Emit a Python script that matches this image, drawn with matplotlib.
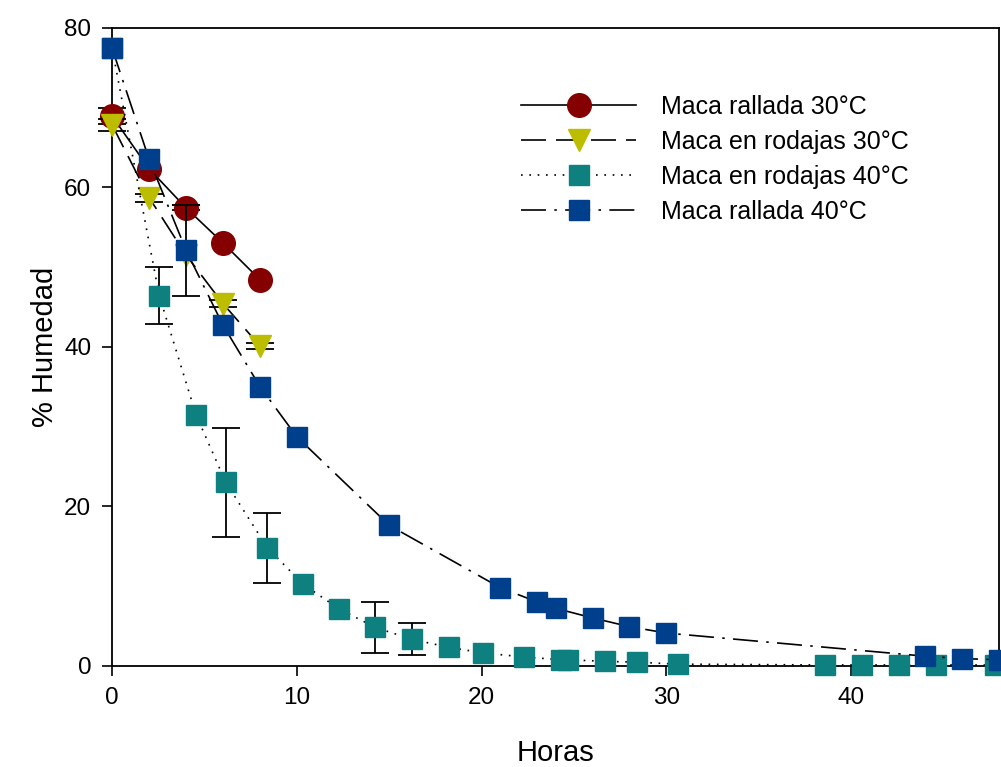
import matplotlib
matplotlib.use("Agg")
import matplotlib.pyplot as plt

plt.rcParams['font.family'] = ['Liberation Sans', 'DejaVu Sans']

# Maca rallada 30°C
rall30_x = [0, 2, 4, 6, 8]
rall30_y = [68.9, 62.3, 57.4, 53.0, 48.4]

# Maca en rodajas 30°C
rod30_x = [0, 2, 4, 6, 8]
rod30_y = [67.8, 58.7, 51.5, 45.4, 40.1]

# Maca en rodajas 40°C
rod40_x = [0, 2.55, 4.55, 6.15, 8.4, 10.35, 12.3, 14.25, 16.25, 18.25, 20.1,
           22.3, 24.3, 24.7, 26.7, 28.4, 30.6, 38.6, 40.6, 42.6, 44.6, 47.8]
rod40_y = [77.4, 46.4, 31.4, 23.0, 14.8, 10.2, 7.1, 4.8, 3.3, 2.3, 1.6,
           1.1, 0.75, 0.75, 0.55, 0.45, 0.2, 0.1, 0.1, 0.1, 0.1, 0.1]

# Maca rallada 40°C
rall40_x = [0, 2, 4, 6, 8, 10, 15, 21, 23, 24, 26, 28, 30, 44, 46, 48]
rall40_y = [77.4, 63.5, 52.1, 42.7, 35.0, 28.7, 17.6, 9.8, 8.0, 7.2,
            6.0, 4.9, 4.1, 1.2, 0.9, 0.75]

# desviaciones estandar
rall30_err = ([0, 4], [68.9, 57.4], [1.0, 0.3])
rod30_err = ([0, 2, 6, 8], [67.8, 58.7, 45.4, 40.1], [0.8, 0.5, 0.4, 0.4])
rod40_err = ([2.55, 6.15, 8.4, 14.25, 16.25], [46.4, 23.0, 14.8, 4.8, 3.3],
             [3.6, 6.8, 4.4, 3.2, 2.0])
rall40_err = ([4], [52.1], [5.7])

series = [
    ("Maca rallada 30°C", rall30_x, rall30_y, rall30_err, "o", "#850000", "-", 17),
    ("Maca en rodajas 30°C", rod30_x, rod30_y, rod30_err, "v", "#BDBD00", (0, (15, 6)), 16),
    ("Maca en rodajas 40°C", rod40_x, rod40_y, rod40_err, "s", "#0F8080", (0, (1, 4)), 14.5),
    ("Maca rallada 40°C", rall40_x, rall40_y, rall40_err, "s", "#003F8C", (0, (15, 5, 1.5, 5)), 14.5),
]

fig = plt.figure(figsize=(10.01, 7.67), dpi=100)
ax = fig.add_axes([0.112, 0.132, 0.886, 0.832])

for i, (label, x, y, err, mk, col, ls, ms) in enumerate(series):
    ex, ey, ee = err
    ax.errorbar(ex, ey, yerr=ee, fmt="none", ecolor="black", elinewidth=1.3,
                capsize=10, capthick=1.3, zorder=2 + i * 2, clip_on=False)
    ax.plot(x, y, color="black", linestyle=ls, linewidth=1.2, marker=mk,
            markersize=ms, markerfacecolor=col, markeredgecolor=col,
            label=label, zorder=3 + i * 2, clip_on=False)

ax.set_xlim(0, 48)
ax.set_ylim(0, 80)
ax.set_xticks([0, 10, 20, 30, 40])
ax.set_yticks([0, 20, 40, 60, 80])
ax.tick_params(direction="out", length=7, width=1.2, labelsize=17.5, pad=8)
for s in ax.spines.values():
    s.set_linewidth(1.3)

ax.set_xlabel("Horas", fontsize=21, labelpad=22)
ax.set_ylabel("% Humedad", fontsize=21, labelpad=4)

ax.legend(loc="upper left", bbox_to_anchor=(0.436, 0.93), frameon=False,
          fontsize=18, handlelength=4.6, handletextpad=1.0,
          labelspacing=0.44, numpoints=1)

fig.savefig("out.png", dpi=100)
